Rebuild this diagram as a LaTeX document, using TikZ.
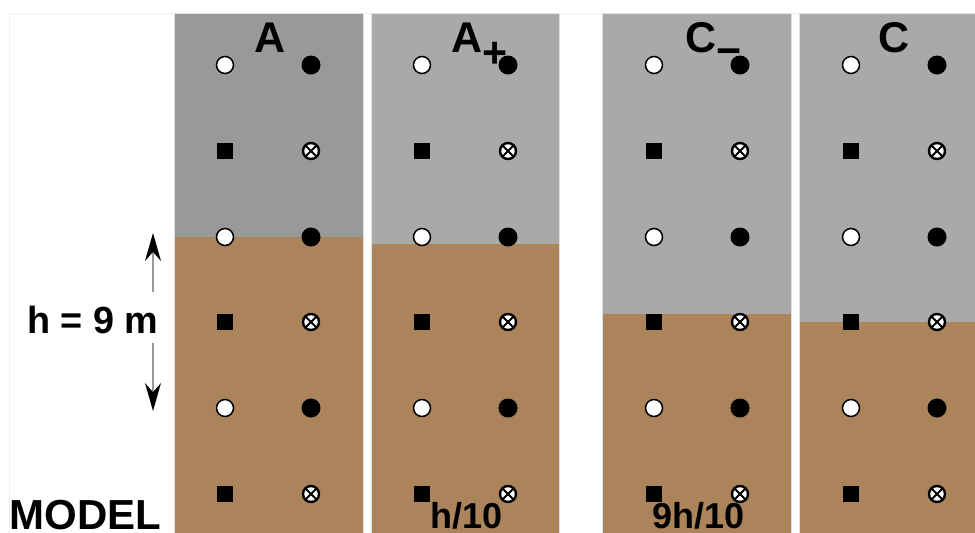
\documentclass[tikz,border=0pt]{standalone}
\usepackage{fontspec}
\setmainfont{Liberation Sans}
\usepackage{tikz}
\usetikzlibrary{arrows.meta,positioning,calc}
\definecolor{greydark}{RGB}{153,153,153}
\definecolor{greylight}{RGB}{169,169,169}
\definecolor{soil}{RGB}{172,132,92}

\tikzset{
    opendot/.style={circle, draw=black, fill=white, line width=0.75pt, minimum size=8.5pt, inner sep=0pt},
    fulldot/.style={circle, fill=black, minimum size=9.5pt, inner sep=0pt},
    sqmark/.style={rectangle, fill=black, minimum size=8.3pt, inner sep=0pt},
    xmark/.style={circle, draw=black, fill=white, line width=1.2pt, minimum size=8pt, inner sep=0pt,
        path picture={\draw[line width=0.9pt] (path picture bounding box.north west) -- (path picture bounding box.south east)
            (path picture bounding box.north east) -- (path picture bounding box.south west);}},
    paneltitle/.style={font=\bfseries\fontsize{21.5}{24}\selectfont, inner sep=0pt},
    sidetext/.style={font=\bfseries\fontsize{18.9}{22}\selectfont, inner sep=0pt},
    bottomtext/.style={font=\bfseries\fontsize{18}{20}\selectfont, inner sep=0pt},
    harrow/.style={draw=gray!80, line width=0.75pt, -{Stealth[length=14pt, width=8pt, color=black]}}
}

\begin{document}
\begin{tikzpicture}[x=0.5pt, y=-0.5pt]
    \clip (0,0) rectangle (975,532);
    \fill[white] (0,0) rectangle (975,532);
    \draw[gray!12] (9.5,13) rectangle (990,545);

    % Soil columns
    \foreach \l/\r/\s/\g in {174/363/237/greydark, 371/559/244/greylight, 602/791/314/greylight, 799/990/322/greylight} {
        \fill[\g] (\l,13) rectangle (\r,\s);
        \fill[soil] (\l,\s) rectangle (\r,545);
        \draw[gray!25, line width=0.4pt] (\l,13) rectangle (\r,545);
    }

    % Markers
    \foreach \p/\xo/\xf in {a/225/311, ap/422/508, cm/654/740, c/851/937} {
        \foreach \y [count=\i] in {65,237,408} {
            \node[opendot] (\p-o\i) at (\xo,\y) {};
            \node[fulldot] (\p-f\i) at (\xf,\y) {};
        }
        \foreach \y [count=\i] in {151,322,494} {
            \node[sqmark] (\p-s\i) at (\xo,\y) {};
            \node[xmark] (\p-x\i) at (\xf,\y) {};
        }
    }

    % Titles
    \node[paneltitle, anchor=base] (tA) at (270,52) {A};
    \node[paneltitle, anchor=base west] (tAp) at (451,52) {A\raisebox{-7.5pt}{+}};
    \node[paneltitle, anchor=base west] (tCm) at (685,52) {C\raisebox{-6.75pt}{−}};
    \node[paneltitle, anchor=base] (tC) at (894,52) {C};

    % Height
    \node[sidetext, anchor=base east] (hgt) at (159,333) {h = 9 m};
    \coordinate (uptail) at (153,292);
    \coordinate (uptip) at (153,233);
    \coordinate (dntail) at (153,343);
    \coordinate (dntip) at (153,411);
    \draw[harrow] (uptail) -- (uptip);
    \draw[harrow] (dntail) -- (dntip);

    % Bottom labels
    \node[paneltitle, font=\bfseries\fontsize{21}{24}\selectfont, anchor=base west] (model) at (9,529) {MODEL};
    \node[bottomtext, anchor=base] (hten) at (466.5,528) {h/10};
    \node[bottomtext, anchor=base] (nineh) at (698.5,528) {9h/10};
\end{tikzpicture}
\end{document}
